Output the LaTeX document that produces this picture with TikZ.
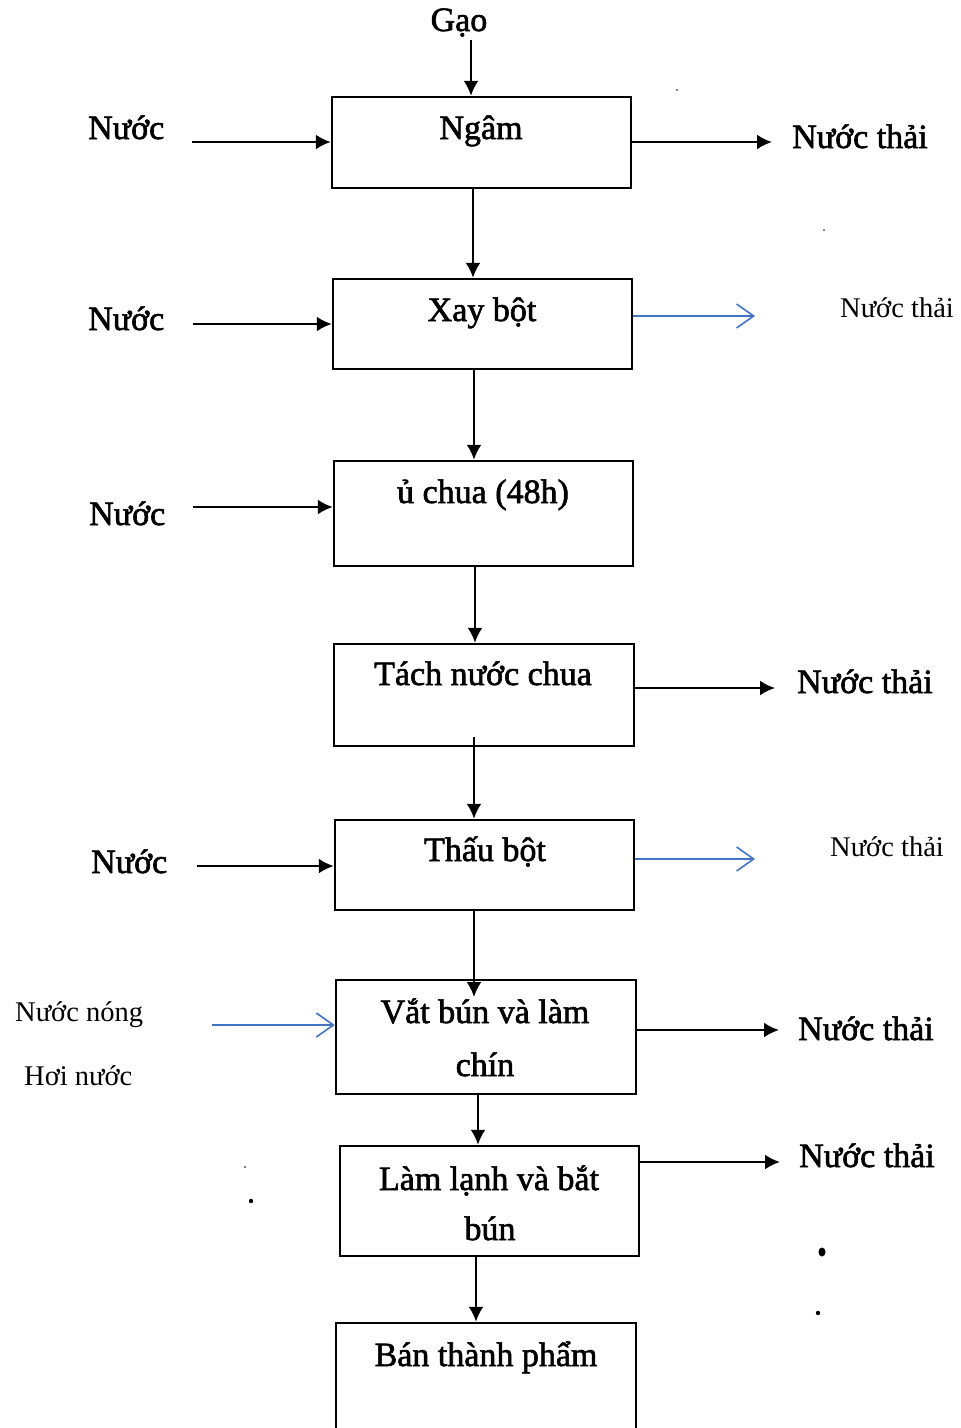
\documentclass[tikz,border=0pt]{standalone}
\usepackage{fontspec}
\setmainfont{Liberation Serif}
\newfontfamily\scanfont[FakeBold=1.8]{Liberation Serif}
\usetikzlibrary{arrows.meta}
\definecolor{arrblue}{RGB}{68,114,196}
\tikzset{
  stepbox/.style={draw=black, line width=2.5pt, rectangle, inner sep=0pt},
  bigtxt/.style={font=\scanfont\fontsize{34}{40}\selectfont, inner sep=0pt, anchor=base},
  bigleft/.style={font=\scanfont\fontsize{34}{40}\selectfont, inner sep=0pt, anchor=base west},
  smalltxt/.style={font=\fontsize{28.5}{34}\selectfont, inner sep=0pt, anchor=base west},
  blackarr/.style={draw=black, line width=2.3pt, -{Latex[length=15pt,width=15pt]}},
  bluearr/.style={draw=arrblue, line width=1.6pt, -{Straight Barb[length=17pt,width=24pt,line width=1.6pt]}},
}
\begin{document}
\begin{tikzpicture}[x=1pt,y=-1pt]
\useasboundingbox (0,0) rectangle (961,1428);
\clip (0,0) rectangle (961,1428);
\fill[white] (0,0) rectangle (961,1428);

% boxes
\node[stepbox, minimum width=299pt, minimum height=91pt] (ngam) at (481.5,142.5) {};
\node[stepbox, minimum width=299pt, minimum height=90pt] (xay) at (482.5,324) {};
\node[stepbox, minimum width=299pt, minimum height=105pt] (uchua) at (483.5,513.5) {};
\node[stepbox, minimum width=300pt, minimum height=102pt] (tach) at (484,695) {};
\node[stepbox, minimum width=299pt, minimum height=90pt] (thau) at (484.5,865) {};
\node[stepbox, minimum width=300pt, minimum height=114pt] (vat) at (486,1037) {};
\node[stepbox, minimum width=299pt, minimum height=110pt] (lam) at (489.5,1201) {};
\node[stepbox, minimum width=300pt, minimum height=114pt] (ban) at (486,1380) {};

% box texts
\node[bigtxt] (tgao) at (459,31) {Gạo};
\node[bigtxt] (tngam) at (481,139) {Ngâm};
\node[bigtxt] (txay) at (482,321) {Xay bột};
\node[bigtxt] (tuchua) at (483,503) {ủ chua (48h)};
\node[bigtxt] (ttach) at (483,685) {Tách nước chua};
\node[bigtxt] (tthau) at (485,861) {Thấu bột};
\node[bigtxt] (tvat1) at (485,1023) {Vắt bún và làm};
\node[bigtxt] (tvat2) at (485,1076) {chín};
\node[bigtxt] (tlam1) at (489,1190) {Làm lạnh và bắt};
\node[bigtxt] (tlam2) at (490,1240) {bún};
\node[bigtxt] (tban) at (486,1366) {Bán thành phẩm};

% left labels
\node[bigleft] (n1) at (88,139) {Nước};
\node[bigleft] (n2) at (88,330) {Nước};
\node[bigleft] (n3) at (89,525) {Nước};
\node[bigleft] (n4) at (91,873) {Nước};
\node[smalltxt] (nnong) at (15,1021) {Nước nóng};
\node[smalltxt] (hoi) at (24,1085) {Hơi nước};

% right labels
\node[bigleft] (w1) at (792,148) {Nước thải};
\node[smalltxt] (w2) at (840,317) {Nước thải};
\node[bigleft] (w3) at (797,693) {Nước thải};
\node[smalltxt] (w4) at (830,856) {Nước thải};
\node[bigleft] (w5) at (798,1040) {Nước thải};
\node[bigleft] (w6) at (799,1167) {Nước thải};

% free ends
\coordinate (sg) at (471,40);
\coordinate (s1) at (192,142);
\coordinate (s2) at (193,324);
\coordinate (s3) at (193,507);
\coordinate (s4) at (197,866);
\coordinate (s5) at (212,1025);
\coordinate (e1) at (772,142);
\coordinate (e2) at (755,316);
\coordinate (e3) at (775,688);
\coordinate (e4) at (755,859);
\coordinate (e5) at (779,1030);
\coordinate (e6) at (780,1162);
\coordinate (tachstub) at (474,737);
\coordinate (vattip) at (474,997);

% vertical flow
\draw[blackarr] (sg) -- (sg |- ngam.north);
\draw[blackarr] ([xshift=-8.5pt]ngam.south) -- ([xshift=-8.5pt]ngam.south |- xay.north);
\draw[blackarr] ([xshift=-8.5pt]xay.south) -- ([xshift=-8.5pt]xay.south |- uchua.north);
\draw[blackarr] ([xshift=-8.5pt]uchua.south) -- ([xshift=-8.5pt]uchua.south |- tach.north);
\draw[blackarr] (tachstub) -- (tachstub |- thau.north);
\draw[blackarr] (thau.south -| vattip) -- (vattip);
\draw[blackarr] ([xshift=-8pt]vat.south) -- ([xshift=-8pt]vat.south |- lam.north);
\draw[blackarr] ([xshift=-13.5pt]lam.south) -- ([xshift=-13.5pt]lam.south |- ban.north);

% inputs
\draw[blackarr] (s1) -- (s1 -| ngam.west);
\draw[blackarr] (s2) -- (s2 -| xay.west);
\draw[blackarr] (s3) -- (s3 -| uchua.west);
\draw[blackarr] (s4) -- (s4 -| thau.west);
\draw[bluearr] (s5) -- (s5 -| vat.west);

% outputs
\draw[blackarr] (e1 -| ngam.east) -- (e1);
\draw[bluearr] (e2 -| xay.east) -- (e2);
\draw[blackarr] (e3 -| tach.east) -- (e3);
\draw[bluearr] (e4 -| thau.east) -- (e4);
\draw[blackarr] (e5 -| vat.east) -- (e5);
\draw[blackarr] (e6 -| lam.east) -- (e6);

% scan specks
\fill (677,90) circle (0.8pt);
\fill (824,230) circle (0.8pt);
\fill (245,1167) circle (0.8pt);
\fill (251,1201) circle (2.2pt);
\fill (822,1252) ellipse (3.5pt and 4.5pt);
\fill (818,1313) circle (2.2pt);
\end{tikzpicture}
\end{document}
